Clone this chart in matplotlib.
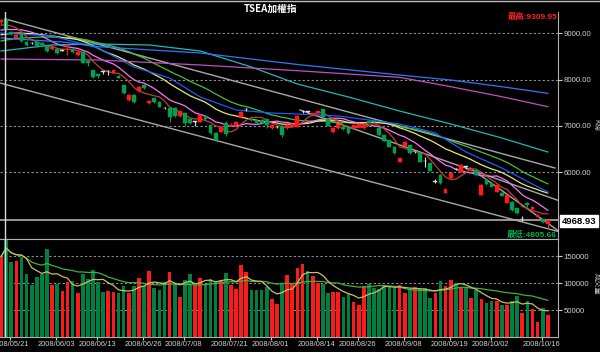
import numpy as np
import pandas as pd
import matplotlib
matplotlib.use("Agg")
import matplotlib.pyplot as plt

plt.rcParams["font.family"] = ["Liberation Sans", "Noto Sans CJK TC", "DejaVu Sans"]

# daily bars, first bar = 2008/05/20
opens = [9244, 9298, 9028, 8905, 8985, 8819, 8795, 8819, 8790, 8726,
         8655, 8655, 8626, 8698, 8640, 8532, 8603, 8409, 8208, 8122,
         8175, 8176, 8150, 8080, 7884, 7561, 7668, 7761, 7884, 7490,
         7597, 7524, 7385, 7381, 7394, 7215, 7274, 7144, 7082, 7092,
         7215, 7021, 6855, 6876, 7071, 7000, 7021, 7187, 7362, 7140,
         7129, 7129, 7144, 6950, 6972, 7000, 6950, 7000, 6985, 7318,
         7305, 7237, 7274, 7360, 7144, 6864, 6950, 6984, 6984, 6963,
         6985, 6950, 7114, 7100, 6963, 6805, 6697, 6553, 6229, 6568,
         6589, 6452, 6410, 6240, 6194, 5792, 5942, 5560, 5871, 6070,
         6013, 6120, 6040, 6050, 5510, 5850, 5763, 5582, 5560, 5344,
         5366, 5230, 4985, 5330, 5200, 5030, 4990, 4880]
highs = [9309.95, 9305, 9050, 8990, 9000, 8840, 8820, 8835, 8810, 8740,
         8730, 8670, 8665, 8760, 8680, 8620, 8620, 8420, 8215, 8130,
         8180, 8200, 8215, 8100, 7890, 7680, 7690, 7860, 7900, 7560,
         7610, 7530, 7420, 7390, 7420, 7340, 7290, 7160, 7110, 7250,
         7240, 7030, 6870, 6990, 7100, 7060, 7100, 7320, 7380, 7160,
         7140, 7150, 7150, 7040, 7000, 7020, 7040, 7070, 7230, 7340,
         7320, 7290, 7345, 7370, 7150, 6980, 7050, 7000, 7000, 7030,
         7055, 7060, 7125, 7130, 6975, 6815, 6705, 6560, 6310, 6680,
         6600, 6470, 6420, 6330, 6200, 5850, 5960, 5645, 5990, 6085,
         6170, 6130, 6080, 6060, 5740, 5860, 5770, 5740, 5570, 5520,
         5380, 5240, 5050, 5360, 5270, 5110, 5000, 4980]
lows = [9200, 9060, 8960, 8890, 8820, 8730, 8760, 8700, 8730, 8600,
        8640, 8550, 8610, 8532, 8580, 8510, 8350, 8300, 8040, 8030,
        8130, 8100, 8140, 8030, 7690, 7540, 7500, 7740, 7800, 7470,
        7500, 7400, 7360, 7092, 7200, 7200, 6990, 7040, 7010, 7080,
        7130, 6830, 6680, 6860, 6780, 6990, 7000, 7170, 7320, 7100,
        7050, 7040, 6960, 6940, 6950, 6760, 6930, 6980, 6970, 7290,
        7270, 7220, 7260, 7170, 6990, 6850, 6940, 6910, 6830, 6950,
        6975, 6940, 7060, 7060, 6790, 6670, 6540, 6395, 6220, 6550,
        6400, 6420, 6215, 6110, 6020, 5760, 5750, 5550, 5860, 6040,
        6000, 6080, 6030, 5930, 5500, 5730, 5680, 5570, 5480, 5330,
        5170, 5110, 4940, 5260, 5150, 5030, 4900, 4805.66]
closes = [9287, 9086, 8985, 8963, 8834, 8748, 8785, 8726, 8748, 8624,
          8711, 8568, 8634, 8748, 8597, 8603, 8365, 8352, 8063, 8085,
          8165, 8184, 8208, 8040, 7705, 7668, 7524, 7848, 7813, 7545,
          7524, 7416, 7380, 7200, 7215, 7330, 7058, 7058, 7090, 7237,
          7144, 6842, 6697, 6971, 6827, 7030, 7090, 7308, 7370, 7120,
          7065, 7058, 7021, 7021, 6980, 6805, 7021, 7050, 7215, 7325,
          7300, 7273, 7330, 7187, 7000, 6963, 7036, 6928, 6842, 7021,
          7043, 7043, 7071, 7080, 6805, 6682, 6553, 6410, 6302, 6661,
          6410, 6460, 6229, 6235, 6035, 5800, 5776, 5634, 5979, 6065,
          6158, 6115, 6070, 5942, 5726, 5748, 5690, 5726, 5489, 5510,
          5187, 5129, 4990, 5290, 5250, 5070, 4935, 4968.93]
volumes = [149000, 180000, 139000, 141000, 149000, 117000, 96000, 111000, 116000, 163500,
           96000, 99000, 85000, 102000, 104000, 81500, 117000, 107000, 123500, 102000,
           84000, 85000, 83000, 82000, 94000, 81500, 94000, 109000, 94000, 122000,
           90000, 86500, 102000, 121000, 99000, 74600, 105500, 117000, 95700, 109000,
           97000, 107000, 102000, 106000, 118500, 97000, 89000, 133000, 121000, 87600,
           87000, 87000, 92600, 71000, 61000, 98800, 114800, 98800, 127000, 135000,
           122000, 113000, 100600, 98800, 82000, 83000, 83000, 74700, 79000, 65400,
           59000, 94500, 98800, 91400, 88300, 94500, 94500, 91400, 96300, 82000,
           88300, 92600, 88300, 91400, 72800, 82000, 103700, 94500, 105600, 100600,
           90000, 91400, 72800, 86400, 69800, 62400, 66700, 66700, 59000, 59000,
           66700, 75300, 45000, 66700, 52500, 28400, 54300, 40700]
vol_colors = ("RGGRGGGGGG" "RGRRGRGGGG" "GRRGGRGRGR" "GGGRGRGGRR" "GGGRGRRRRG"
              "GGGRRGRRRR" "GRRGGRRGGR" "RRGGGGGGRR" "GRGGGRGRRG" "RGRGRGGRGR"
              "GGRGRRGR")

# closes before the first bar, only used to start the moving averages
pre_closes = [8420, 8510, 8550, 8470, 8530, 8600, 8650, 8580, 8640, 8700,
              8760, 8720, 8800, 8850, 8910, 8870, 8940, 8990, 8930, 8880,
              8950, 9010, 8960, 8900, 8980, 9060, 9120, 9180, 9250]

# longer averages (bar index, value)
ma_mid_idx = [0, 10, 19, 26, 33, 39, 46, 53, 58, 66, 72, 78, 85, 91, 98, 107]
ma_mid_val = [9006, 8942, 8683, 8273, 8035, 7625, 7345, 7280, 7258, 7215, 7129, 7043, 6849, 6438, 6093, 5575]
ma60_idx = [0, 10, 19, 29, 39, 49, 58, 68, 78, 88, 98, 107]
ma60_val = [8618, 8748, 8769, 8748, 8618, 8273, 7906, 7625, 7323, 7043, 6741, 6438]
ma120_idx = [0, 19, 39, 58, 78, 88, 98, 107]
ma120_val = [8445, 8424, 8316, 8193, 8050, 7848, 7632, 7416]
ma240_idx = [0, 12, 19, 39, 58, 78, 88, 98, 107]
ma240_val = [8899, 8812, 8711, 8575, 8327, 8100, 7992, 7848, 7705]

# channel lines (start bar, start value, end bar, end value)
line_x0 = [0.8, -0.2, 58.5, 91.8]
line_y0 = [9310, 7927, 7345, 6093]
line_x1 = [108.4, 109.4, 109.4, 109.4]
line_y1 = [6093, 4712, 5380, 4712]

tick_idx = [1, 10, 18, 27, 35, 44, 52, 61, 69, 78, 87, 95, 105]
tick_labels = ["2008/05/21", "2008/06/03", "2008/06/13", "2008/06/26", "2008/07/08",
               "2008/07/21", "2008/08/01", "2008/08/14", "2008/08/26", "2008/09/08",
               "2008/09/19", "2008/10/02", "2008/10/16"]

W, H = 600, 352
fig = plt.figure(figsize=(6, 3.52), dpi=100, facecolor="black")
ax = fig.add_axes([0, (H - 239) / H, 558 / W, (239 - 12) / H], facecolor="black")
axv = fig.add_axes([0, (H - 337) / H, 558 / W, (337 - 239) / H], facecolor="black")

x = np.arange(len(closes))
o = np.array(opens, float)
c = np.array(closes, float)
hi = np.array(highs, float)
lo = np.array(lows, float)
up = c > o
doji = np.abs(c - o) <= 10
red, green = "#ff1a1a", "#00a050"
body_col = np.where(doji, "#e0e0e0", np.where(up, red, green))

# moving averages
full = pd.Series(pre_closes + closes, dtype=float)
n0 = len(pre_closes)
for n, col in [(30, "#40c040"), (20, "#e8e870"), (10, "#ff70ff"), (5, "#c04030")]:
    ma = full.rolling(n).mean().iloc[n0:].values
    ax.plot(x, ma, color=col, lw=0.9, zorder=2)
ax.plot(ma_mid_idx, ma_mid_val, color="#1a5cff", lw=0.9, zorder=2)
ax.plot(ma60_idx, ma60_val, color="#20b8b8", lw=0.9, zorder=2)
ax.plot(ma120_idx, ma120_val, color="#c050c0", lw=0.9, zorder=2)
ax.plot(ma240_idx, ma240_val, color="#2a78ff", lw=0.9, zorder=2)

for x0, y0, x1, y1 in zip(line_x0, line_y0, line_x1, line_y1):
    ax.plot([x0, x1], [y0, y1], color="#a8a8a8", lw=1.0, zorder=1)

# candles
ax.vlines(x, lo, hi, color=body_col, lw=0.8, zorder=3)
ax.bar(x, np.maximum(np.abs(c - o), 15), bottom=np.minimum(o, c), width=0.75,
       color=body_col, edgecolor=body_col, lw=0.3, zorder=4)

for v in [6000, 7000, 8000, 9000]:
    ax.axhline(v, color="#909090", lw=0.8, ls=(0, (2, 2)), zorder=0)
ax.axhline(closes[-1], color="#b0b0b0", lw=1.2, zorder=1)
ax.axvline(0.78, color="#d8d8d8", lw=1, zorder=5)

ax.set_xlim(-0.2, 109.0)
ax.set_ylim(9000 - (239 - 33.3) * 21.58, 9000 + (33.3 - 12) * 21.58)
ax.set_xticks([])
ax.yaxis.tick_right()
ax.set_yticks([6000, 7000, 8000, 9000])
ax.set_yticklabels([f"{v:.2f}" for v in [6000, 7000, 8000, 9000]])
ax.tick_params(axis="y", colors="#d0d0d0", labelsize=5.6, length=3, pad=1)
for s in ["left", "top"]:
    ax.spines[s].set_visible(False)
for s in ["right", "bottom"]:
    ax.spines[s].set_color("#b0b0b0")

# volume panel
vcol = [red if k == "R" else "#008040" for k in vol_colors]
axv.bar(x, volumes, width=0.72, color=vcol, zorder=2)
vs = pd.Series(volumes, dtype=float)
axv.plot(x, vs.rolling(20, min_periods=1).mean(), color="#40b040", lw=0.9, zorder=3)
axv.plot(x, vs.rolling(5, min_periods=1).mean(), color="#c8c060", lw=0.9, zorder=3)
for v in [50000, 100000, 150000]:
    axv.axhline(v, color="#909090", lw=0.8, ls=(0, (2, 2)), zorder=1)
axv.axvline(0.78, color="#d8d8d8", lw=1, zorder=5)
axv.set_xlim(-0.2, 109.0)
axv.set_ylim(0, (337 - 239) * 1852)
axv.yaxis.tick_right()
axv.set_yticks([50000, 100000, 150000])
axv.set_yticklabels(["50000", "100000", "150000"])
axv.set_xticks([i + 0.8 for i in tick_idx])
axv.set_xticklabels(tick_labels)
axv.tick_params(axis="y", colors="#d0d0d0", labelsize=5.6, length=3, pad=1)
axv.tick_params(axis="x", colors="#d0d0d0", labelsize=5.4, length=2, pad=1)
axv.spines["left"].set_visible(False)
for s in ["right", "bottom", "top"]:
    axv.spines[s].set_color("#b0b0b0")

# texts
fig.text(271 / W, 1 - 9 / H, "TSEA加權指", color="white", fontsize=7, fontweight="bold",
         ha="center", va="center", family=["Noto Sans CJK TC", "DejaVu Sans"])
fig.text(557 / W, 1 - 17 / H, "最高:9309.95", color="#ff2020", fontsize=6, fontweight="bold",
         ha="right", va="center")
fig.text(557 / W, 1 - 235 / H, "最低:4805.66", color="#00b050", fontsize=6, fontweight="bold",
         ha="right", va="center")
fig.text(562 / W, 1 - 221 / H, f"{closes[-1]:.2f}", color="black", fontsize=6.8, fontweight="bold",
         ha="left", va="center", bbox=dict(facecolor="white", edgecolor="white", pad=1.2))
fig.text(596 / W, 1 - 125 / H, "K線", color="#d0d0d0", fontsize=5.2, rotation=-90,
         ha="center", va="center")
fig.text(596 / W, 1 - 284 / H, "成交量", color="#d0d0d0", fontsize=5.2, rotation=-90,
         ha="center", va="center")
fig.add_artist(plt.Line2D([0, 1], [1 - 0.5 / H, 1 - 0.5 / H], color="#c0c0c0", lw=1))

fig.savefig("out.png", dpi=100, facecolor="black")
